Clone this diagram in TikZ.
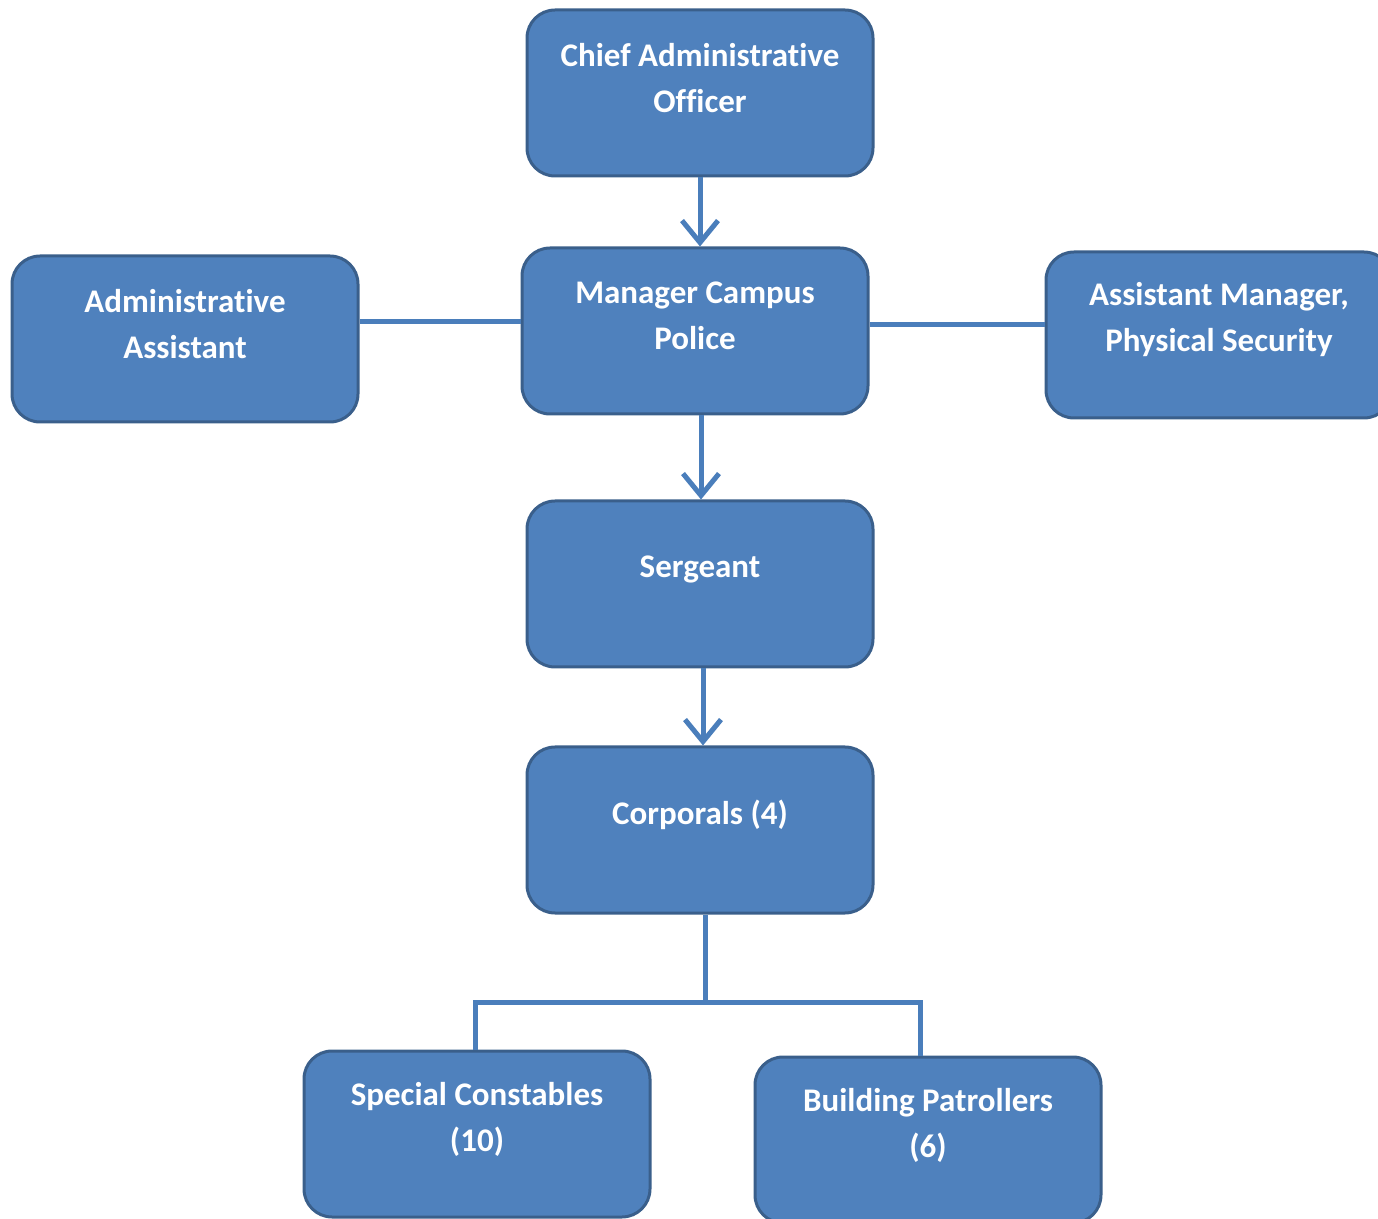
\documentclass[tikz,border=0pt]{standalone}
\usepackage{fontspec}
\setmainfont[Ligatures=NoCommon]{Carlito}
\usetikzlibrary{arrows.meta}
\definecolor{boxfill}{HTML}{4F81BD}
\definecolor{boxline}{HTML}{3A5F8B}
\definecolor{linkcol}{HTML}{4A7EBB}
\tikzset{
  post/.style={draw=boxline,line width=1.5pt,fill=boxfill,rounded corners=14pt,
    minimum width=173pt,minimum height=83pt,inner sep=0pt},
  title/.style={text=white,font=\bfseries\fontsize{16.5}{23}\selectfont,align=center,yshift=7.5pt},
  link/.style={linkcol,line width=2.5pt},
  down/.style={link,-{Straight Barb[length=11pt,width=18pt,line width=2.5pt]}}
}
\begin{document}
\begin{tikzpicture}[x=0.5pt,y=-0.5pt]
\useasboundingbox (0,0) rectangle (1378,1219);
% boxes
\node[post,label={[title]center:{Chief Administrative\\Officer}}] (cao) at (700,93) {};
\node[post,label={[title]center:{Manager Campus\\Police}}] (mgr) at (695,331) {};
\node[post,label={[title]center:{Administrative\\Assistant}}] (admin) at (185,339) {};
\node[post,label={[title]center:{Assistant Manager,\\Physical Security}}] (asst) at (1219,335) {};
\node[post,label={[title]center:Sergeant}] (sgt) at (700,584) {};
\node[post,label={[title]center:Corporals (4)}] (corp) at (700,830) {};
\node[post,label={[title]center:{Special Constables\\(10)}}] (spec) at (477,1134) {};
\node[post,label={[title]center:{Building Patrollers\\(6)}}] (bldg) at (928,1140) {};
\coordinate (split) at (705,1002);
% links
\draw[down] (cao.south) -- (cao.south |- mgr.north);
\draw[down] ([xshift=3pt]mgr.south) -- ([xshift=3pt]mgr.south |- sgt.north);
\draw[down] ([xshift=1.5pt]sgt.south) -- ([xshift=1.5pt]sgt.south |- corp.north);
\draw[link] ([yshift=8.5pt]admin.east) -- ([yshift=8.5pt]admin.east -| mgr.west);
\draw[link] ([yshift=3pt]mgr.east) -- ([yshift=3pt]mgr.east -| asst.west);
\draw[link] (corp.south -| split) -- (split);
\draw[link] ([xshift=-1pt]spec.north) -- ([xshift=-1pt]spec.north |- split)
  -- ([xshift=-4pt]bldg.north |- split) -- ([xshift=-4pt]bldg.north);
\end{tikzpicture}
\end{document}
